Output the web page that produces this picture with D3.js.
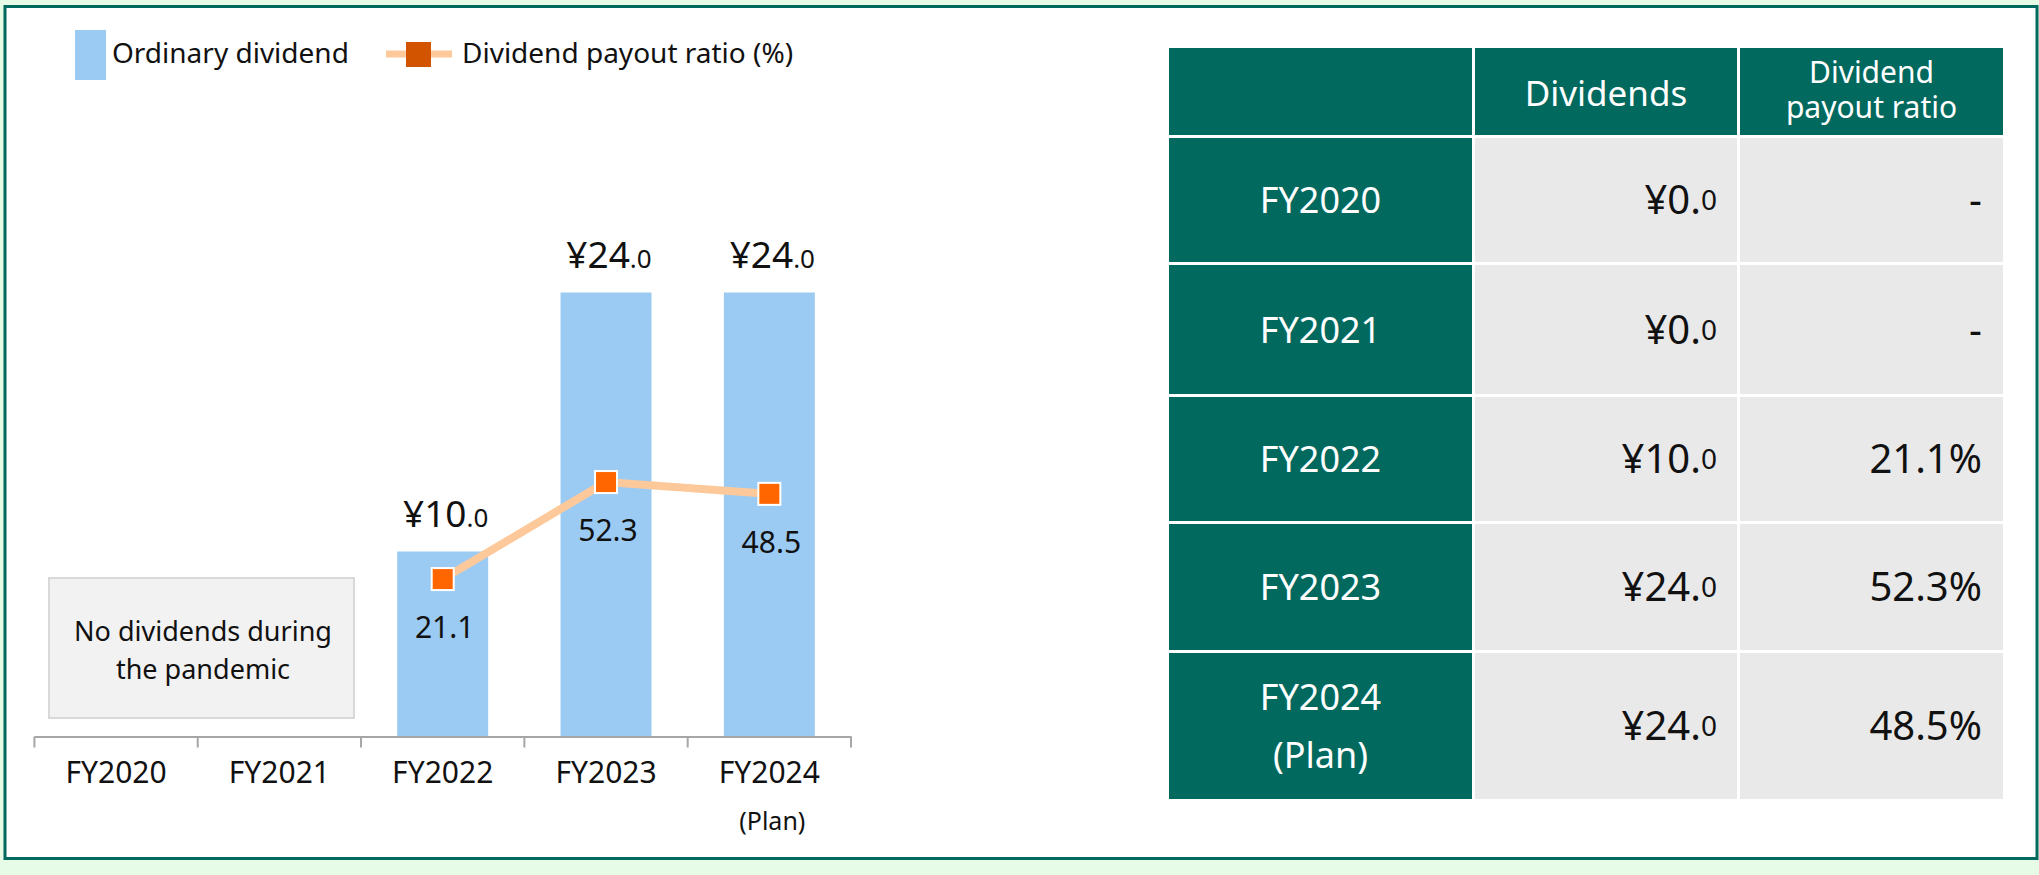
<!DOCTYPE html>
<html>
<head>
<meta charset="utf-8">
<script src="https://cdn.jsdelivr.net/npm/d3@7"></script>
<style>
  html, body { margin: 0; padding: 0; background: #e6fce6; }
  svg { display: block; }
</style>
</head>
<body>
<svg id="chart" width="2039" height="875"></svg>
<script>
// data
const categories = ["FY2020", "FY2021", "FY2022", "FY2023", "FY2024"];
const isPlan = [false, false, false, false, true];
const dividends = [0, 0, 10, 24, 24];
const payoutRatio = [null, null, 21.1, 52.3, 48.5];
const seriesNames = ["Ordinary dividend", "Dividend payout ratio (%)"];
const tableHeaders = ["", "Dividends", ["Dividend", "payout ratio"]];
const noteLines = ["No dividends during", "the pandemic"];

const TEAL = "#02695f";
const BAR = "#9bcbf3";
const LINE = "#fdc99b";
const MARK = "#ff6600";
const FONT = "'Noto Sans', 'Open Sans', sans-serif";

const svg = d3.select("#chart");

// frame
svg.append("rect")
  .attr("x", 5).attr("y", 6.5)
  .attr("width", 2032).attr("height", 852)
  .attr("fill", "#fff")
  .attr("stroke", TEAL)
  .attr("stroke-width", 3);

// ---------- chart ----------
const x = d3.scaleBand()
  .domain(categories)
  .range([34.4, 851])
  .padding(0);

const y = d3.scaleLinear().domain([0, 30]).range([736.5, 181.5]);
const y2 = d3.scaleLinear().domain([-30, 70]).range([738, 427]);

const barW = x.bandwidth() * 0.557;
const cx = c => x(c) + x.bandwidth() / 2;

// legend
const lg = svg.append("g").attr("font-family", FONT).attr("font-size", 28).attr("fill", "#111");
lg.append("rect").attr("x", 75).attr("y", 30).attr("width", 31).attr("height", 50).attr("fill", BAR);
lg.append("text").attr("x", 112).attr("y", 63).text(seriesNames[0]);
lg.append("line").attr("x1", 386).attr("x2", 452).attr("y1", 54).attr("y2", 54)
  .attr("stroke", LINE).attr("stroke-width", 7);
lg.append("rect").attr("x", 406).attr("y", 42).attr("width", 25).attr("height", 25).attr("fill", "#d35400");
lg.append("text").attr("x", 462).attr("y", 63).text(seriesNames[1]);

// bars
const rows = categories.map((c, i) => ({ c, div: dividends[i], ratio: payoutRatio[i], plan: isPlan[i] }));

svg.append("g").selectAll("rect")
  .data(rows.filter(d => d.div > 0))
  .join("rect")
  .attr("x", d => cx(d.c) - barW / 2)
  .attr("y", d => y(d.div))
  .attr("width", barW)
  .attr("height", d => y(0) - y(d.div))
  .attr("fill", BAR);

// bar labels
const bl = svg.append("g").selectAll("text")
  .data(rows.filter(d => d.div > 0))
  .join("text")
  .attr("x", d => cx(d.c) + 3)
  .attr("y", d => y(d.div) - 25)
  .attr("text-anchor", "middle")
  .attr("font-family", FONT)
  .attr("fill", "#111");
bl.append("tspan").attr("font-size", 37).text(d => "¥" + d.div.toFixed(1).split(".")[0]);
bl.append("tspan").attr("font-size", 26).text(d => "." + d.div.toFixed(1).split(".")[1]);

// axis
const axisG = svg.append("g")
  .attr("transform", `translate(0,${y(0)})`)
  .call(d3.axisBottom(x).tickSize(0).tickSizeOuter(0));
axisG.select(".domain").attr("stroke", "#a6a6a6").attr("stroke-width", 2);
axisG.selectAll(".tick text")
  .attr("dy", null)
  .attr("y", 46.5)
  .attr("font-family", FONT)
  .attr("font-size", 30)
  .attr("fill", "#111");
axisG.append("g").selectAll("line")
  .data(d3.range(categories.length + 1))
  .join("line")
  .attr("x1", i => x.range()[0] + i * x.step())
  .attr("x2", i => x.range()[0] + i * x.step())
  .attr("y1", 0).attr("y2", 11)
  .attr("stroke", "#a6a6a6").attr("stroke-width", 2);

svg.append("g").selectAll("text")
  .data(rows.filter(d => d.plan))
  .join("text")
  .attr("x", d => cx(d.c) + 3)
  .attr("y", 830)
  .attr("text-anchor", "middle")
  .attr("font-family", FONT)
  .attr("font-size", 25)
  .attr("fill", "#111")
  .text("(Plan)");

// note box
svg.append("rect")
  .attr("x", 49).attr("y", 578).attr("width", 305).attr("height", 140)
  .attr("fill", "#f2f2f2").attr("stroke", "#d9d9d9").attr("stroke-width", 2);
svg.append("g").selectAll("text")
  .data(noteLines)
  .join("text")
  .attr("x", 203)
  .attr("y", (d, i) => 640.5 + i * 38.5)
  .attr("text-anchor", "middle")
  .attr("font-family", FONT)
  .attr("font-size", 27)
  .attr("fill", "#111")
  .text(d => d);

// payout ratio line
const ratioRows = rows.filter(d => d.ratio != null);
svg.append("path")
  .datum(ratioRows)
  .attr("fill", "none")
  .attr("stroke", LINE)
  .attr("stroke-width", 8)
  .attr("d", d3.line().x(d => cx(d.c)).y(d => y2(d.ratio)));

svg.append("g").selectAll("rect")
  .data(ratioRows)
  .join("rect")
  .attr("x", d => cx(d.c) - 11)
  .attr("y", d => y2(d.ratio) - 11)
  .attr("width", 22).attr("height", 22)
  .attr("fill", MARK)
  .attr("stroke", "#fff")
  .attr("stroke-width", 2);

svg.append("g").selectAll("text")
  .data(ratioRows)
  .join("text")
  .attr("x", d => cx(d.c) + 2)
  .attr("y", d => y2(d.ratio) + 59)
  .attr("text-anchor", "middle")
  .attr("font-family", FONT)
  .attr("font-size", 30)
  .attr("fill", "#111")
  .text(d => d.ratio.toFixed(1));

// ---------- table ----------
const colX = [1169, 1475, 1740];
const colW = [303, 262, 263];
const headTop = 48, headH = 87, gap = 3;
const rowH = [124, 129, 124, 126, 146];
const rowTop = [];
rowH.reduce((acc, h) => { rowTop.push(acc); return acc + h + gap; }, headTop + headH + gap);

const tg = svg.append("g").attr("font-family", FONT);

// header
tg.selectAll("rect.head")
  .data(colX)
  .join("rect")
  .attr("class", "head")
  .attr("x", d => d).attr("y", headTop)
  .attr("width", (d, i) => colW[i]).attr("height", headH)
  .attr("fill", TEAL);

tg.append("text")
  .attr("x", colX[1] + colW[1] / 2).attr("y", 106)
  .attr("text-anchor", "middle").attr("font-size", 35).attr("fill", "#fff")
  .text(tableHeaders[1]);

const h3 = tg.append("text")
  .attr("y", 83)
  .attr("text-anchor", "middle").attr("font-size", 30).attr("fill", "#fff");
h3.selectAll("tspan")
  .data(tableHeaders[2])
  .join("tspan")
  .attr("x", colX[2] + colW[2] / 2)
  .attr("dy", (d, i) => i === 0 ? 0 : 35)
  .text(d => d);

// body rows
const tr = tg.selectAll("g.row")
  .data(rows)
  .join("g")
  .attr("class", "row")
  .attr("transform", (d, i) => `translate(0,${rowTop[i]})`);

tr.append("rect")
  .attr("x", colX[0]).attr("width", colW[0])
  .attr("height", (d, i) => rowH[i]).attr("fill", TEAL);
tr.append("rect")
  .attr("x", colX[1]).attr("width", colW[1])
  .attr("height", (d, i) => rowH[i]).attr("fill", "#e9e9e9");
tr.append("rect")
  .attr("x", colX[2]).attr("width", colW[2])
  .attr("height", (d, i) => rowH[i]).attr("fill", "#e9e9e9");

// row labels
tr.each(function(d, i) {
  const g = d3.select(this);
  const mid = rowH[i] / 2;
  const lines = d.plan ? [d.c, "(Plan)"] : [d.c];
  const first = d.plan ? mid - 16 : mid + 13;
  g.selectAll("text.lab")
    .data(lines)
    .join("text")
    .attr("class", "lab")
    .attr("x", colX[0] + colW[0] / 2)
    .attr("y", (t, k) => first + k * 58)
    .attr("text-anchor", "middle")
    .attr("font-size", 36)
    .attr("fill", "#fff")
    .text(t => t);
});

// dividend values
const dv = tr.append("text")
  .attr("x", colX[1] + colW[1] - 20)
  .attr("y", (d, i) => rowH[i] / 2 + 14)
  .attr("text-anchor", "end")
  .attr("fill", "#111");
dv.append("tspan").attr("font-size", 40).text(d => "¥" + d.div.toFixed(1).split(".")[0] + ".");
dv.append("tspan").attr("font-size", 28).attr("dy", -4).text(d => d.div.toFixed(1).split(".")[1]);

// ratio values
tr.append("text")
  .attr("x", colX[2] + colW[2] - 21)
  .attr("y", (d, i) => rowH[i] / 2 + 14)
  .attr("text-anchor", "end")
  .attr("font-size", 40)
  .attr("fill", "#111")
  .text(d => d.ratio == null ? "-" : d.ratio.toFixed(1) + "%");
</script>
</body>
</html>
